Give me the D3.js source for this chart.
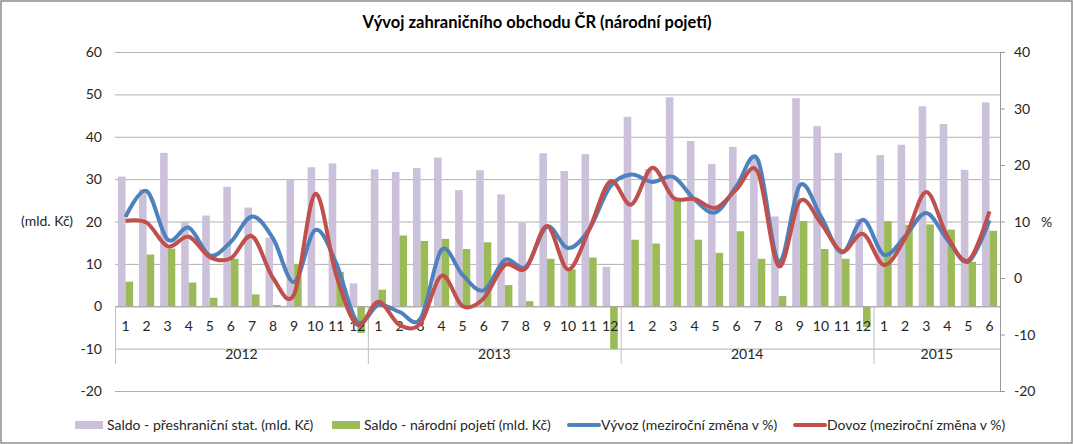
<!DOCTYPE html>
<html>
<head>
<meta charset="utf-8">
<script src="https://d3js.org/d3.v7.min.js"></script>
<style>
  body { margin: 0; background: #fff; }
  text { font-family: Lato, "Open Sans", sans-serif; }
</style>
</head>
<body>
<div id="chart"></div>
<script>
// months (category labels) and years (second level)
const months = [1,2,3,4,5,6,7,8,9,10,11,12, 1,2,3,4,5,6,7,8,9,10,11,12,
                1,2,3,4,5,6,7,8,9,10,11,12, 1,2,3,4,5,6];
const years = [{label: "2012", n: 12}, {label: "2013", n: 12}, {label: "2014", n: 12}, {label: "2015", n: 6}];

// Saldo - přeshraniční stat. (mld. Kč)
const saldoPres = [30.6, 27.6, 36.2, 20.0, 21.4, 28.2, 23.3, 16.2, 30.0, 32.8, 33.7, 5.4,
                   32.3, 31.7, 32.6, 35.1, 27.4, 32.1, 26.4, 19.7, 36.1, 31.9, 35.9, 9.3,
                   44.7, 32.4, 49.3, 39.0, 33.6, 37.6, 35.4, 21.2, 49.1, 42.5, 36.2, 20.6,
                   35.7, 38.1, 47.2, 43.0, 32.2, 48.1];
// Saldo - národní pojetí (mld. Kč)
const saldoNar = [5.8, 12.2, 13.6, 5.6, 2.0, 11.2, 2.8, 0.3, 10.0, 0, 8.1, -6.3,
                  3.9, 16.7, 15.4, 15.9, 13.5, 15.1, 5.0, 1.2, 11.2, 8.7, 11.5, -10.1,
                  15.7, 14.8, 25.2, 15.7, 12.6, 17.7, 11.2, 2.4, 20.1, 13.5, 11.2, -4.9,
                  20.1, 19.2, 19.3, 18.1, 10.5, 17.8];
// Vývoz (meziroční změna v %)
const vyvoz = [10.8, 15.4, 6.8, 8.9, 4.0, 6.4, 10.9, 7.0, -0.7, 8.5, 2.6, -7.8,
               -4.8, -6.0, -7.2, 5.0, 0.5, -2.2, 3.2, 2.0, 9.1, 5.3, 8.6, 16.2,
               18.3, 17.0, 17.9, 13.9, 11.6, 16.3, 21.0, 2.9, 16.4, 10.9, 4.5, 10.3,
               4.1, 7.4, 11.5, 6.8, 2.9, 10.2];
// Dovoz (meziroční změna v %)
const dovoz = [10.1, 9.8, 5.6, 7.3, 3.7, 3.5, 7.4, 0.0, -2.9, 14.9, 0.5, -8.3,
               -4.2, -8.3, -8.0, 0.4, -5.0, -3.6, 2.3, 1.7, 9.2, 1.5, 8.5, 17.1,
               13.0, 19.5, 14.2, 14.0, 12.4, 15.7, 18.8, 2.1, 13.6, 9.7, 4.7, 7.8,
               2.3, 7.1, 15.2, 7.4, 3.1, 11.8];

const leftTicks = [-20, -10, 0, 10, 20, 30, 40, 50, 60];
const rightTicks = [-20, -10, 0, 10, 20, 30, 40];

const W = 1073, H = 444;
const x0 = 115, x1 = 1000, yTop = 52, yBot = 391;
const colors = { pres: "#CCC1DA", nar: "#9BBB59", vyv: "#4F81BD", dov: "#C0504D" };
const fs = 14, txt = "#262626";

const svg = d3.select("#chart").append("svg")
    .attr("width", W).attr("height", H);

svg.append("rect")
    .attr("x", 1).attr("y", 1).attr("width", W - 2).attr("height", H - 2)
    .attr("fill", "#fff").attr("stroke", "#8c8c8c").attr("stroke-width", 1.5);

svg.append("text")
    .attr("x", 537).attr("y", 28)
    .attr("text-anchor", "middle")
    .attr("font-size", 16.5).attr("font-weight", "bold").attr("fill", "#000")
    .text("Vývoj zahraničního obchodu ČR (národní pojetí)");

const idx = d3.range(months.length);
const x = d3.scaleBand().domain(idx).range([x0, x1]).paddingInner(0.28).paddingOuter(0.14);
const step = (x1 - x0) / months.length;
const xs = d3.scaleBand().domain(["pres", "nar"]).range([0, x.bandwidth()]);
const yL = d3.scaleLinear().domain([-20, 60]).range([yBot, yTop]);
const yR = d3.scaleLinear().domain([-20, 40]).range([yBot, yTop]);
const cx = i => x0 + step * (i + 0.5);

// gridlines
svg.append("g").selectAll("line").data(leftTicks).join("line")
    .attr("x1", x0).attr("x2", x1)
    .attr("y1", d => yL(d) + 0.5).attr("y2", d => yL(d) + 0.5)
    .attr("stroke", "#b0b0b0").attr("stroke-width", 1);

// left labels
svg.append("g").selectAll("text").data(leftTicks).join("text")
    .attr("x", 102).attr("y", d => yL(d) + 5)
    .attr("text-anchor", "end").attr("font-size", fs).attr("fill", txt)
    .text(d => d);

svg.append("text").attr("x", 21).attr("y", 226)
    .attr("font-size", fs).attr("fill", txt).text("(mld. Kč)");

// right axis
svg.append("line").attr("x1", x1 + 0.5).attr("x2", x1 + 0.5)
    .attr("y1", yTop).attr("y2", yBot + 1)
    .attr("stroke", "#999").attr("stroke-width", 1);
svg.append("g").selectAll("line").data(rightTicks).join("line")
    .attr("x1", x1).attr("x2", x1 + 5)
    .attr("y1", d => yR(d) + 0.5).attr("y2", d => yR(d) + 0.5)
    .attr("stroke", "#999");
svg.append("g").selectAll("text").data(rightTicks).join("text")
    .attr("x", 1014).attr("y", d => yR(d) + 5)
    .attr("font-size", fs).attr("fill", txt)
    .text(d => d);
svg.append("text").attr("x", 1041).attr("y", 227)
    .attr("font-size", fs).attr("fill", txt).text("%");

// bars
const bars = svg.append("g");
bars.selectAll("rect.pres").data(idx).join("rect")
    .attr("x", i => x(i) + xs("pres"))
    .attr("width", xs.bandwidth())
    .attr("y", i => yL(Math.max(0, saldoPres[i])))
    .attr("height", i => Math.abs(yL(saldoPres[i]) - yL(0)))
    .attr("fill", colors.pres);
bars.selectAll("rect.nar").data(idx).join("rect")
    .attr("x", i => x(i) + xs("nar"))
    .attr("width", xs.bandwidth())
    .attr("y", i => yL(Math.max(0, saldoNar[i])))
    .attr("height", i => Math.abs(yL(saldoNar[i]) - yL(0)))
    .attr("fill", colors.nar);

// category axis
const y0 = yL(0);
svg.append("line").attr("x1", x0).attr("x2", x1)
    .attr("y1", y0 + 0.5).attr("y2", y0 + 0.5)
    .attr("stroke", "#a6a6a6");

let bounds = [0];
years.forEach(d => bounds.push(bounds[bounds.length - 1] + d.n));
svg.append("g").selectAll("line").data(bounds.slice(0, -1)).join("line")
    .attr("x1", b => x0 + step * b + 0.5).attr("x2", b => x0 + step * b + 0.5)
    .attr("y1", y0).attr("y2", 364)
    .attr("stroke", "#bfbfbf");

svg.append("g").selectAll("text").data(idx).join("text")
    .attr("x", cx).attr("y", 331)
    .attr("text-anchor", "middle").attr("font-size", fs).attr("fill", txt)
    .text(i => months[i]);

svg.append("g").selectAll("text").data(years).join("text")
    .attr("x", (d, k) => x0 + step * (bounds[k] + d.n / 2)).attr("y", 359)
    .attr("text-anchor", "middle").attr("font-size", fs).attr("fill", txt)
    .text(d => d.label);

// lines
const line = d3.line().x((d, i) => cx(i)).y(d => yR(d)).curve(d3.curveCardinal.tension(0));
svg.append("path").datum(vyvoz).attr("d", line)
    .attr("fill", "none").attr("stroke", colors.vyv).attr("stroke-width", 4)
    .attr("stroke-linejoin", "round");
svg.append("path").datum(dovoz).attr("d", line)
    .attr("fill", "none").attr("stroke", colors.dov).attr("stroke-width", 4)
    .attr("stroke-linejoin", "round");

// legend
const legend = [
    { label: "Saldo - přeshraniční stat. (mld. Kč)", color: colors.pres, type: "bar", x: 75 },
    { label: "Saldo - národní pojetí (mld. Kč)", color: colors.nar, type: "bar", x: 332 },
    { label: "Vývoz (meziroční změna v %)", color: colors.vyv, type: "line", x: 568 },
    { label: "Dovoz (meziroční změna v %)", color: colors.dov, type: "line", x: 794 }
];
const lg = svg.append("g").selectAll("g").data(legend).join("g")
    .attr("transform", d => `translate(${d.x},425)`);
lg.filter(d => d.type === "bar").append("rect")
    .attr("x", 0).attr("y", -4).attr("width", 28).attr("height", 8)
    .attr("fill", d => d.color);
lg.filter(d => d.type === "line").append("line")
    .attr("x1", 1).attr("x2", 31).attr("y1", 0).attr("y2", 0)
    .attr("stroke", d => d.color).attr("stroke-width", 4).attr("stroke-linecap", "round");
lg.append("text")
    .attr("x", d => d.type === "bar" ? 32 : 33).attr("y", 5)
    .attr("font-size", fs).attr("fill", txt)
    .text(d => d.label);
</script>
</body>
</html>
